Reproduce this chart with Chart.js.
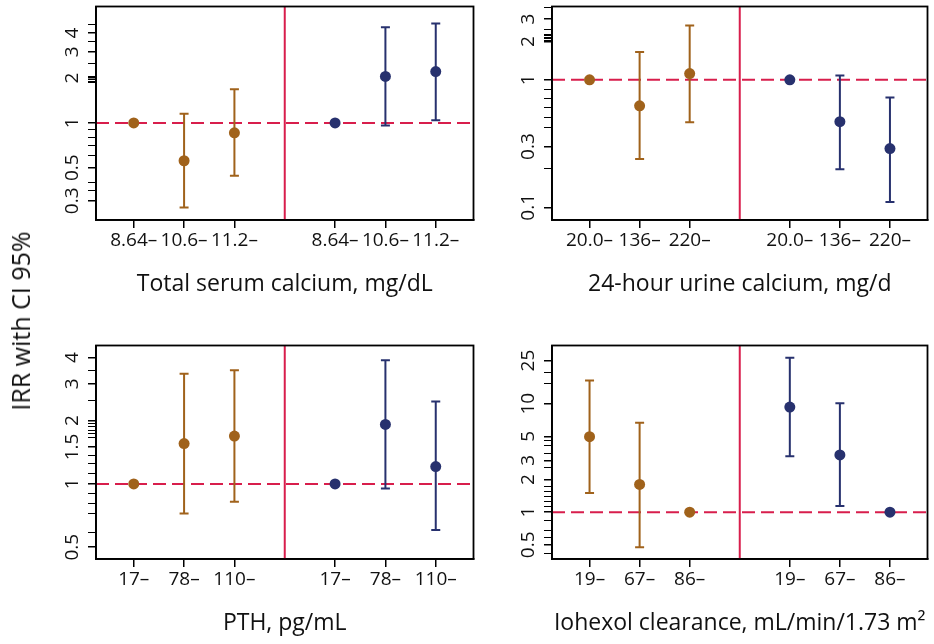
<!DOCTYPE html>
<html>
<head>
<meta charset="utf-8">
<script src="https://cdn.jsdelivr.net/npm/chart.js@4/dist/chart.umd.min.js"></script>
<style>
  body { margin: 0; background: #fff; }
  #wrap { position: relative; width: 934px; height: 644px; overflow: hidden; }
  canvas { position: absolute; }
  #ytitle {
    position: absolute; left: 20px; top: 321px;
    transform: translate(-50%, -50%) rotate(-90deg);
    font: 25px "Open Sans", sans-serif; color: #111; white-space: nowrap;
  }
</style>
</head>
<body>
<div id="wrap">
  <canvas id="c1" width="480" height="305" style="left:0;top:0"></canvas>
  <canvas id="c2" width="454" height="305" style="left:480px;top:0"></canvas>
  <canvas id="c3" width="480" height="305" style="left:0;top:339px"></canvas>
  <canvas id="c4" width="454" height="305" style="left:480px;top:339px"></canvas>
  <div id="ytitle">IRR with CI 95%</div>
</div>
<script>
// x positions: first group 0..2, second group 4..6, divider at 3
const groupA = [0, 1, 2];
const groupB = [4, 5, 6];

// panel 1 - total serum calcium
const calLabels = ['8.64–', '10.6–', '11.2–'];
const calOrange = [1, 0.557, 0.857];
const calOrangeLo = [null, 0.27, 0.442];
const calOrangeHi = [null, 1.15, 1.68];
const calBlue = [1, 2.05, 2.21];
const calBlueLo = [null, 0.96, 1.04];
const calBlueHi = [null, 4.39, 4.64];
const calTicks = [0.3, 0.5, 1, 2, 3, 4];
const calMinor = [0.35, 0.4, 0.6, 0.7, 0.8, 0.9, 1.86, 1.9, 1.94, 1.97, 2.04, 2.5, 3.5, 4.55];

// panel 2 - 24-hour urine calcium
const uriLabels = ['20.0–', '136–', '220–'];
const uriOrange = [1, 0.626, 1.12];
const uriOrangeLo = [null, 0.24, 0.466];
const uriOrangeHi = [null, 1.65, 2.67];
const uriBlue = [1, 0.47, 0.289];
const uriBlueLo = [null, 0.199, 0.11];
const uriBlueHi = [null, 1.08, 0.727];
const uriTicks = [0.1, 0.3, 1, 2, 3];
const uriMinor = [0.2, 0.42, 0.51, 0.61, 0.71, 0.84, 2.05, 2.1, 2.16, 2.22, 2.28, 2.5, 3.7];

// panel 3 - PTH
const pthLabels = ['17–', '78–', '110–'];
const pthOrange = [1, 1.556, 1.69];
const pthOrangeLo = [null, 0.723, 0.822];
const pthOrangeHi = [null, 3.35, 3.48];
const pthBlue = [1, 1.92, 1.21];
const pthBlueLo = [null, 0.95, 0.603];
const pthBlueHi = [null, 3.88, 2.47];
const pthTicks = [0.5, 1, 1.5, 2, 3, 4];
const pthMinor = [0.59, 0.72, 0.81, 0.9, 1.12, 1.25, 1.37, 1.66, 1.73, 1.8, 1.87, 1.94, 2.5, 3.46];

// panel 4 - iohexol clearance
const iohLabels = ['19–', '67–', '86–'];
const iohOrange = [4.97, 1.8, 1];
const iohOrangeLo = [1.5, 0.476, null];
const iohOrangeHi = [16.4, 6.69, null];
const iohBlue = [9.3, 3.37, 1];
const iohBlueLo = [3.27, 1.14, null];
const iohBlueHi = [26.5, 10.1, null];
const iohTicks = [0.5, 1, 2, 3, 5, 10, 25];
const iohMinor = [0.42, 0.59, 0.68, 0.84, 1.12, 1.25, 1.4, 1.55, 1.71, 2.6, 3.5, 4.1, 4.6, 15.4, 19.4];

const ORANGE = '#A0621B';
const BLUE = '#27316E';
const RED = '#D81E4C';
const FONT = '"Open Sans", sans-serif';

// box for the frame (top and right sides too)
const framePlugin = {
  id: 'frame',
  afterDraw(chart) {
    const { ctx, chartArea: a } = chart;
    ctx.save();
    ctx.strokeStyle = '#000';
    ctx.lineWidth = 1.8;
    ctx.strokeRect(a.left, a.top, a.right - a.left, a.bottom - a.top);
    ctx.restore();
  }
};

function errorBars(pos, lo, hi, color) {
  const sets = [];
  pos.forEach((x, i) => {
    if (lo[i] == null) return;
    sets.push({
      data: [{ x: x, y: lo[i] }, { x: x, y: hi[i] }],
      showLine: true,
      borderColor: color,
      borderWidth: 2,
      pointStyle: 'line',
      pointRadius: 4.5,
      pointBorderWidth: 2,
      pointBorderColor: color,
      order: 2
    });
  });
  return sets;
}

function makePanel(id, cfg) {
  const xMin = -0.75, xMax = 6.75;
  const ticksX = groupA.concat(groupB);
  const labelAt = v => {
    const i = ticksX.indexOf(v);
    return i < 0 ? '' : cfg.labels[i % 3];
  };

  const datasets = [
    {
      data: groupA.map((x, i) => ({ x: x, y: cfg.orange[i] })),
      backgroundColor: ORANGE, borderWidth: 0, pointRadius: 5.5, order: 1
    },
    {
      data: groupB.map((x, i) => ({ x: x, y: cfg.blue[i] })),
      backgroundColor: BLUE, borderWidth: 0, pointRadius: 5.5, order: 1
    },
    ...errorBars(groupA, cfg.orangeLo, cfg.orangeHi, ORANGE),
    ...errorBars(groupB, cfg.blueLo, cfg.blueHi, BLUE),
    {
      // reference line at IRR = 1
      data: [{ x: xMin, y: 1 }, { x: xMax, y: 1 }],
      showLine: true, borderColor: RED, borderWidth: 2, borderDash: [13, 6],
      pointRadius: 0, order: 3
    },
    {
      // divider between the two groups
      data: [{ x: 3, y: cfg.yMin }, { x: 3, y: cfg.yMax }],
      showLine: true, borderColor: RED, borderWidth: 2,
      pointRadius: 0, order: 3
    }
  ];

  new Chart(document.getElementById(id), {
    type: 'scatter',
    data: { datasets: datasets },
    options: {
      responsive: false,
      animation: false,
      devicePixelRatio: 1,
      events: [],
      layout: { padding: { left: 0, right: cfg.padRight, top: 6, bottom: 7 } },
      plugins: { legend: { display: false }, tooltip: { enabled: false } },
      scales: {
        x: {
          type: 'linear',
          min: xMin,
          max: xMax,
          afterBuildTicks: s => { s.ticks = ticksX.map(v => ({ value: v })); },
          afterFit: s => { s.height = 78; s.paddingLeft = 0; s.paddingRight = 0; },
          ticks: {
            autoSkip: false, source: 'data', maxRotation: 0, padding: 1,
            color: '#111', font: { family: FONT, size: 19 },
            callback: v => labelAt(v)
          },
          grid: { drawOnChartArea: false, drawTicks: true, tickLength: 8, color: '#000', lineWidth: 1.5 },
          border: { display: true, color: '#000', width: 1.8 },
          title: {
            display: true, text: cfg.title, color: '#111', padding: 0,
            font: { family: FONT, size: 23, lineHeight: 1.2 }
          }
        },
        y: {
          type: 'logarithmic',
          min: cfg.yMin,
          max: cfg.yMax,
          afterBuildTicks: s => {
            const all = cfg.ticks.concat(cfg.minor).sort((a, b) => a - b);
            s.ticks = all.map(v => ({ value: v }));
          },
          afterFit: s => { s.width = cfg.yWidth; s.paddingTop = 0; s.paddingBottom = 0; },
          ticks: {
            autoSkip: false, source: 'data', minRotation: 90, maxRotation: 90, crossAlign: 'center', padding: 2,
            color: '#111', font: { family: FONT, size: 19 },
            callback: v => (cfg.ticks.includes(v) ? String(v) : '')
          },
          grid: {
            drawOnChartArea: false, drawTicks: true, tickLength: 8, color: '#000',
            lineWidth: c => (c.tick && cfg.ticks.includes(c.tick.value) ? 1.5 : 1)
          },
          border: { display: true, color: '#000', width: 1.8 }
        }
      }
    },
    plugins: [framePlugin]
  });
}

makePanel('c1', {
  title: 'Total serum calcium, mg/dL', labels: calLabels,
  orange: calOrange, orangeLo: calOrangeLo, orangeHi: calOrangeHi,
  blue: calBlue, blueLo: calBlueLo, blueHi: calBlueHi,
  ticks: calTicks, minor: calMinor, yMin: 0.223, yMax: 6.04,
  yWidth: 96, padRight: 6
});
makePanel('c2', {
  title: '24-hour urine calcium, mg/d', labels: uriLabels,
  orange: uriOrange, orangeLo: uriOrangeLo, orangeHi: uriOrangeHi,
  blue: uriBlue, blueLo: uriBlueLo, blueHi: uriBlueHi,
  ticks: uriTicks, minor: uriMinor, yMin: 0.0796, yMax: 3.76,
  yWidth: 72, padRight: 4
});
makePanel('c3', {
  title: 'PTH, pg/mL', labels: pthLabels,
  orange: pthOrange, orangeLo: pthOrangeLo, orangeHi: pthOrangeHi,
  blue: pthBlue, blueLo: pthBlueLo, blueHi: pthBlueHi,
  ticks: pthTicks, minor: pthMinor, yMin: 0.439, yMax: 4.56,
  yWidth: 96, padRight: 6
});
makePanel('c4', {
  title: 'Iohexol clearance, mL/min/1.73 m²', labels: iohLabels,
  orange: iohOrange, orangeLo: iohOrangeLo, orangeHi: iohOrangeHi,
  blue: iohBlue, blueLo: iohBlueLo, blueHi: iohBlueHi,
  ticks: iohTicks, minor: iohMinor, yMin: 0.37, yMax: 34.4,
  yWidth: 72, padRight: 4
});
</script>
</body>
</html>
